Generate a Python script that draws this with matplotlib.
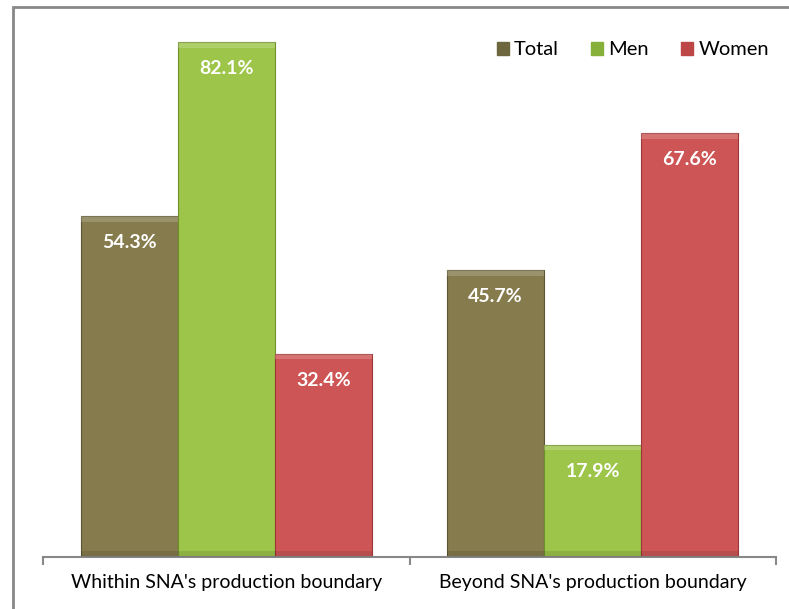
import matplotlib.pyplot as plt
import matplotlib.patches as mpatches
import numpy as np

categories = ["Whithin SNA's production boundary", "Beyond SNA's production boundary"]
series = ["Total", "Men", "Women"]
total = [54.3, 45.7]
men = [82.1, 17.9]
women = [32.4, 67.6]
values = [total, men, women]
colors = ["#857B4C", "#9DC54A", "#CE5555"]
edges = ["#5E5632", "#6E8F2C", "#9A3636"]
legend_colors = ["#6E663E", "#86B03A", "#BD4646"]

plt.rcParams['font.family'] = ['Lato', 'DejaVu Sans']

fig = plt.figure(figsize=(7.89, 6.09), dpi=100)
W, H = 789, 609
ax = fig.add_axes([43 / W, (H - 557) / H, (776 - 43) / W, (557 - 5) / H])

x = np.arange(len(categories))
bw = 0.265
for i, s in enumerate(series):
    pos = x + (i - 1) * bw
    bars = ax.bar(pos, values[i], width=bw, color=colors[i], edgecolor=edges[i],
                  linewidth=0.8, label=s, zorder=2)
    for b, v in zip(bars, values[i]):
        # simple bevel: light strip on top, darker strip at bottom
        bx, bwid = b.get_x(), b.get_width()
        ax.add_patch(mpatches.Rectangle((bx, v - 0.9), bwid, 0.9, color="white",
                                        alpha=0.18, lw=0, zorder=3))
        ax.add_patch(mpatches.Rectangle((bx, 0), bwid, 0.9, color="black",
                                        alpha=0.10, lw=0, zorder=3))
        ax.annotate(f"{v:.1f}%", (b.get_x() + bwid / 2, v), xytext=(0, -19),
                    textcoords="offset points", ha="center", va="center",
                    color="white", fontsize=14, fontweight="bold", zorder=4)

ax.set_xlim(-0.5, 1.5)
ax.set_ylim(0, 88)
ax.set_yticks([])
for side in ["left", "right", "top"]:
    ax.spines[side].set_visible(False)
ax.spines["bottom"].set_color("#888888")
ax.spines["bottom"].set_linewidth(1.5)
ax.set_xticks([-0.5, 0.5, 1.5])
ax.set_xticklabels([])
ax.tick_params(axis="x", length=6, width=1.5, color="#888888")
ax.set_xticks(x, minor=True)
ax.set_xticklabels(categories, minor=True, fontsize=14)
ax.tick_params(axis="x", which="minor", length=0, pad=12)

handles = [mpatches.Patch(facecolor=c, edgecolor=c) for c in legend_colors]
ax.legend(handles, series, ncol=3, loc="upper right", bbox_to_anchor=(1.015, 0.967),
          frameon=False, fontsize=14.5, handlelength=0.6, handleheight=0.6,
          handletextpad=0.25, columnspacing=1.6)

# outer frame of the chart area (cropped on the right and bottom)
fig.add_artist(mpatches.Rectangle((13 / W, -0.1), 1.2, (H - 7) / H + 0.1,
                                  transform=fig.transFigure, fill=False,
                                  edgecolor="#888888", linewidth=2, clip_on=False))

fig.savefig("out.png", dpi=100)
